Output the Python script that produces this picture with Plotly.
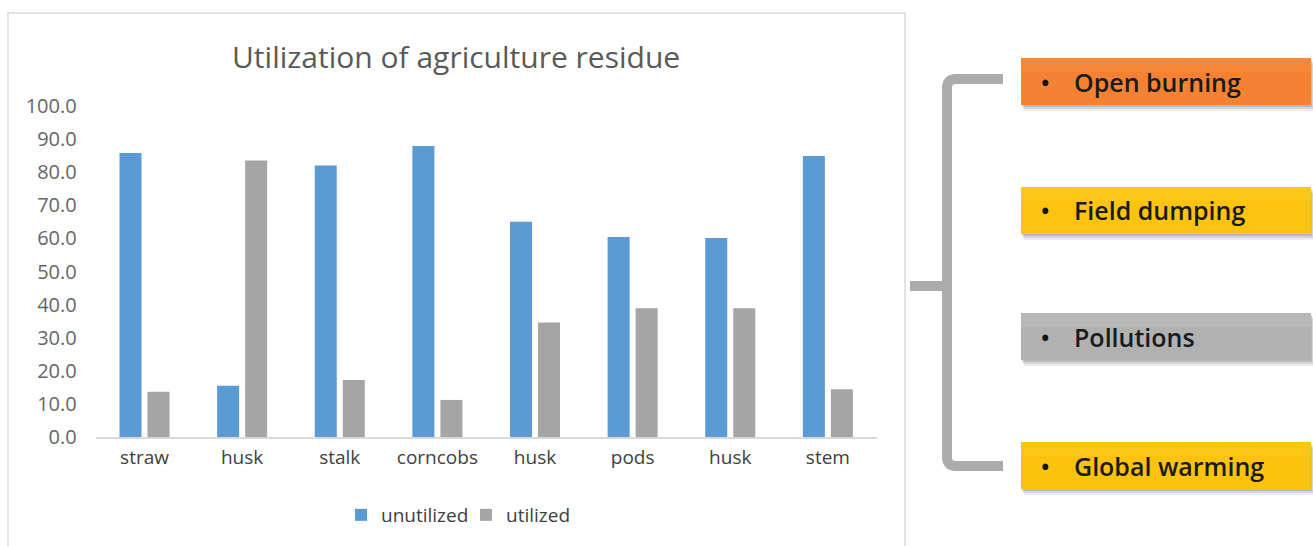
import plotly.graph_objects as go

W, H = 1313, 546

categories = ["straw", "husk", "stalk", "corncobs", "husk ", "pods", "husk  ", "stem"]
tick_labels = ["straw", "husk", "stalk", "corncobs", "husk", "pods", "husk", "stem"]
unutilized = [85.8, 15.5, 82.0, 87.9, 65.0, 60.4, 60.1, 84.9]
utilized = [13.7, 83.5, 17.2, 11.2, 34.6, 38.9, 38.9, 14.4]
y_ticks = [0, 10, 20, 30, 40, 50, 60, 70, 80, 90, 100]

consequences = ["Open burning", "Field dumping", "Pollutions", "Global warming"]
box_colors = ["#f58232", "#fcc40f", "#b1b1b1", "#fcc30c"]
box_top_colors = ["#f6883a", "#fcc719", "#b8b8b8", "#fcc616"]

FONT = "Open Sans"


def px(x):
    return x / W


def py(y):
    return 1 - y / H


fig = go.Figure()
fig.add_trace(go.Bar(x=categories, y=unutilized, name="unutilized",
                     marker=dict(color="#5b9bd5", line=dict(width=0))))
fig.add_trace(go.Bar(x=categories, y=utilized, name="utilized",
                     marker=dict(color="#a5a5a5", line=dict(width=0))))

shapes = []
# chart border
shapes.append(dict(type="rect", xref="paper", yref="paper",
                   x0=px(8), x1=px(905), y0=py(560), y1=py(13),
                   line=dict(color="#d9d9d9", width=1.5), fillcolor="rgba(0,0,0,0)"))

# bracket
def pt(x, y):
    return f"{px(x):.5f},{py(y):.5f}"

path = (f"M {pt(1003, 79)} L {pt(956, 79)} Q {pt(947, 79)} {pt(947, 88)} "
        f"L {pt(947, 457)} Q {pt(947, 466)} {pt(956, 466)} L {pt(1003, 466)}")
shapes.append(dict(type="path", xref="paper", yref="paper", path=path,
                   line=dict(color="#ababab", width=10)))
shapes.append(dict(type="line", xref="paper", yref="paper",
                   x0=px(910), x1=px(947), y0=py(286), y1=py(286),
                   line=dict(color="#ababab", width=10)))

annotations = []
box_tops = [58, 187, 313, 442]
box_h = 47
for name, col, tcol, top in zip(consequences, box_colors, box_top_colors, box_tops):
    # soft shadow
    for off, alpha in [(6, 0.10), (4, 0.15), (2, 0.2)]:
        shapes.append(dict(type="rect", xref="paper", yref="paper",
                           x0=px(1021 + off / 2), x1=px(1311 + off / 2),
                           y0=py(top + box_h + off), y1=py(top + off),
                           line=dict(width=0), fillcolor=f"rgba(80,80,80,{alpha})"))
    shapes.append(dict(type="rect", xref="paper", yref="paper",
                       x0=px(1021), x1=px(1311), y0=py(top + box_h), y1=py(top),
                       line=dict(width=0), fillcolor=col))
    shapes.append(dict(type="rect", xref="paper", yref="paper",
                       x0=px(1021), x1=px(1311), y0=py(top + 14), y1=py(top),
                       line=dict(width=0), fillcolor=tcol))
    cy = top + box_h / 2
    annotations.append(dict(xref="paper", yref="paper", x=px(1045), y=py(cy),
                            text="•", showarrow=False, xanchor="center", yanchor="middle",
                            font=dict(family=FONT, size=28, color="#111111")))
    annotations.append(dict(xref="paper", yref="paper", x=px(1072), y=py(cy),
                            text=name, showarrow=False, xanchor="left", yanchor="middle",
                            font=dict(family=FONT, size=25, color="#1a1a1a", weight=600)))

annotations.append(dict(xref="paper", yref="paper", x=px(456), y=py(57),
                        text="Utilization of agriculture residue", showarrow=False,
                        xanchor="center", yanchor="middle",
                        font=dict(family=FONT, size=30, color="#595959")))

fig.update_layout(
    width=W, height=H,
    margin=dict(l=0, r=0, t=0, b=0, autoexpand=False),
    paper_bgcolor="white", plot_bgcolor="white",
    barmode="group", bargap=0.426, bargroupgap=0.214,
    shapes=shapes, annotations=annotations,
    showlegend=True,
    legend=dict(orientation="h", x=px(341), y=py(515), xanchor="left", yanchor="middle",
                font=dict(family=FONT, size=19, color="#404040"),
                entrywidth=80, bgcolor="rgba(0,0,0,0)"),
    xaxis=dict(domain=[px(95.7), px(876.7)], showline=True, linecolor="#d9d9d9",
               linewidth=1.5, layer="below traces", showgrid=False, ticks="",
               tickvals=categories, ticktext=tick_labels, ticklabelstandoff=2,
               tickfont=dict(family=FONT, size=19, color="#404040")),
    yaxis=dict(domain=[py(437), py(106)], range=[0, 100], tickvals=y_ticks,
               tickformat=".1f", showgrid=False, zeroline=False, showline=False,
               ticks="", ticklabelstandoff=18,
               tickfont=dict(family=FONT, size=20, color="#666666")),
)

fig.write_html("out.html")
